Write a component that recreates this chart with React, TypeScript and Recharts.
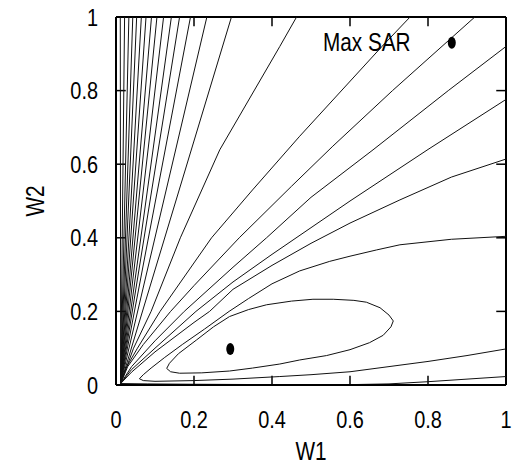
import { ComposedChart, Line, Scatter, XAxis, YAxis, ReferenceLine } from 'recharts'

type Pt = [number, number]

const ticks = [0, 0.2, 0.4, 0.6, 0.8, 1]
const innerTicks = [0.2, 0.4, 0.6, 0.8]
const TICK_LEN = 0.025 // inward tick length, in axis units

// contours that leave through the top edge (W1 at W2 = 1), almost straight from the origin
const steepTopW1 = [0.011, 0.022, 0.033, 0.043, 0.053, 0.065, 0.077, 0.091, 0.105, 0.122, 0.142, 0.163, 0.191, 0.233, 0.296]
const fanOrigin: Pt = [0.012, 0.004]

// bent contours as [W1, W2]
const topLine46: Pt[] = [[0.012, 0.004], [0.045, 0.1], [0.09, 0.2], [0.165, 0.4], [0.266, 0.639], [0.42, 0.92], [0.463, 1]]
const topLine75: Pt[] = [[0.012, 0.004], [0.025, 0.045], [0.055, 0.1], [0.113, 0.2], [0.245, 0.4], [0.35, 0.53], [0.471, 0.676], [0.682, 0.92], [0.754, 1]]
const topLine92: Pt[] = [[0.012, 0.004], [0.03, 0.05], [0.07, 0.11], [0.14, 0.2], [0.2, 0.27], [0.316, 0.4], [0.45, 0.54], [0.556, 0.649], [0.709, 0.8], [0.92, 1]]
const rightLine92: Pt[] = [[0.012, 0.004], [0.04, 0.05], [0.1, 0.12], [0.175, 0.2], [0.3, 0.32], [0.386, 0.4], [0.5, 0.51], [0.659, 0.639], [0.852, 0.8], [1, 0.92]]
const rightLine78: Pt[] = [[0.012, 0.004], [0.04, 0.042], [0.1, 0.1], [0.205, 0.2], [0.3, 0.28], [0.4, 0.355], [0.6, 0.5], [0.8, 0.64], [1, 0.776]]
const rightLine61: Pt[] = [[0.012, 0.004], [0.04, 0.035], [0.1, 0.09], [0.2, 0.17], [0.24, 0.2], [0.3, 0.26], [0.4, 0.325], [0.5, 0.385], [0.6, 0.44], [0.728, 0.503], [0.86, 0.565], [1, 0.614]]
const openLoop: Pt[] = [
  [1, 0.404], [0.86, 0.396], [0.728, 0.381], [0.668, 0.367], [0.6, 0.35], [0.548, 0.336], [0.471, 0.31], [0.4, 0.275],
  [0.34, 0.235], [0.29, 0.2], [0.227, 0.152], [0.17, 0.11], [0.125, 0.075], [0.09, 0.046], [0.07, 0.028], [0.06, 0.017],
  [0.07, 0.012], [0.1, 0.01], [0.2, 0.012], [0.3, 0.016], [0.42, 0.023], [0.5, 0.028], [0.6, 0.036], [0.7, 0.05],
  [0.8, 0.064], [0.9, 0.08], [1, 0.098],
]
const innerLoop: Pt[] = [
  [0.13, 0.045], [0.137, 0.059], [0.16, 0.085], [0.206, 0.122], [0.25, 0.158], [0.291, 0.186], [0.34, 0.205], [0.386, 0.218],
  [0.45, 0.228], [0.505, 0.233], [0.557, 0.233], [0.61, 0.23], [0.642, 0.225], [0.677, 0.21], [0.7, 0.19], [0.711, 0.174],
  [0.705, 0.158], [0.685, 0.135], [0.65, 0.115], [0.6, 0.096], [0.54, 0.08], [0.471, 0.068], [0.42, 0.057], [0.35, 0.046],
  [0.291, 0.038], [0.22, 0.033], [0.163, 0.032], [0.14, 0.036], [0.13, 0.045],
]
const bottomLine: Pt[] = [[0.012, 0.004], [0.08, 0.003], [0.2, 0.002], [0.4, 0.001], [0.6, 0.001], [0.7, 0.003], [0.8, 0.009], [0.9, 0.016], [1, 0.023]]

const maxSarPoint = [{ x: 0.861, y: 0.93 }]
const minPoint = [{ x: 0.293, y: 0.098 }]
const maxSarLabel = [{ x: 0.643, y: 0.931 }]

const toRows = (pts: Pt[]) => pts.map(([x, y]) => ({ x, y }))

const contours = [
  ...steepTopW1.map((t) => toRows([fanOrigin, [t, 1]])),
  toRows(topLine46),
  toRows(topLine75),
  toRows(topLine92),
  toRows(rightLine92),
  toRows(rightLine78),
  toRows(rightLine61),
  toRows(openLoop),
  toRows(innerLoop),
  toRows(bottomLine),
]

const FONT = '"Liberation Sans", Arial, Helvetica, sans-serif'
const SQUEEZE = 0.83

function NarrowText({ x, y, anchor, size, dy, rotate, children }: any) {
  const tr = `translate(${x},${y})${rotate ? ` rotate(${rotate})` : ''} scale(${SQUEEZE},1)`
  return (
    <text transform={tr} textAnchor={anchor} fontSize={size} fontFamily={FONT} fill="#000" dy={dy}>
      {children}
    </text>
  )
}

const BottomTick = ({ x, y, payload }: any) => (
  <NarrowText x={x} y={y} anchor="middle" size={24} dy="0.71em">{String(payload.value)}</NarrowText>
)
const LeftTick = ({ x, y, payload }: any) => (
  <NarrowText x={x} y={y} anchor="end" size={24} dy="0.36em">{String(payload.value)}</NarrowText>
)

const Dot = ({ cx, cy }: any) => <ellipse cx={cx} cy={cy} rx={4} ry={6} fill="#000" />
const SarText = ({ cx, cy }: any) => (
  <NarrowText x={cx} y={cy} anchor="middle" size={25} dy="0.36em">Max SAR</NarrowText>
)

const frame = { stroke: '#000', strokeWidth: 2 }
const tickStyle = { stroke: '#000', strokeWidth: 1.5 }

export default function App() {
  return (
    <div style={{ position: 'absolute', left: 0, top: 0, background: '#fff' }}>
      <ComposedChart width={514} height={467} margin={{ top: 17, right: 8, bottom: 0, left: 0 }}>
        <XAxis
          type="number"
          dataKey="x"
          domain={[0, 1]}
          ticks={ticks}
          height={82}
          axisLine={frame}
          tickLine={false}
          tickMargin={20}
          tick={<BottomTick />}
          label={{
            content: ({ viewBox }: any) => (
              <NarrowText x={viewBox.x + viewBox.width / 2} y={viewBox.y + 66} anchor="middle" size={25} dy="0.36em">W1</NarrowText>
            ),
          }}
        />
        <YAxis
          type="number"
          dataKey="y"
          domain={[0, 1]}
          ticks={ticks}
          width={116}
          axisLine={frame}
          tickLine={false}
          tickMargin={12}
          tick={<LeftTick />}
          label={{
            content: ({ viewBox }: any) => (
              <NarrowText x={viewBox.x + 35} y={viewBox.y + viewBox.height / 2} anchor="middle" size={25} dy="0.36em" rotate={-90}>W2</NarrowText>
            ),
          }}
        />
        <ReferenceLine y={1} {...frame} ifOverflow="visible" />
        <ReferenceLine x={1} {...frame} ifOverflow="visible" />
        {innerTicks.map((t) => (
          <ReferenceLine key={`b${t}`} segment={[{ x: t, y: 0 }, { x: t, y: TICK_LEN }]} {...tickStyle} />
        ))}
        {innerTicks.map((t) => (
          <ReferenceLine key={`t${t}`} segment={[{ x: t, y: 1 }, { x: t, y: 1 - TICK_LEN }]} {...tickStyle} />
        ))}
        {innerTicks.map((t) => (
          <ReferenceLine key={`l${t}`} segment={[{ x: 0, y: t }, { x: TICK_LEN, y: t }]} {...tickStyle} />
        ))}
        {innerTicks.map((t) => (
          <ReferenceLine key={`r${t}`} segment={[{ x: 1, y: t }, { x: 1 - TICK_LEN, y: t }]} {...tickStyle} />
        ))}
        {contours.map((rows, i) => (
          <Line
            key={i}
            data={rows}
            dataKey="y"
            type="linear"
            stroke="#111"
            strokeWidth={1}
            dot={false}
            isAnimationActive={false}
          />
        ))}
        <Scatter data={maxSarPoint} dataKey="y" shape={<Dot />} isAnimationActive={false} />
        <Scatter data={minPoint} dataKey="y" shape={<Dot />} isAnimationActive={false} />
        <Scatter data={maxSarLabel} dataKey="y" shape={<SarText />} isAnimationActive={false} />
      </ComposedChart>
    </div>
  )
}
